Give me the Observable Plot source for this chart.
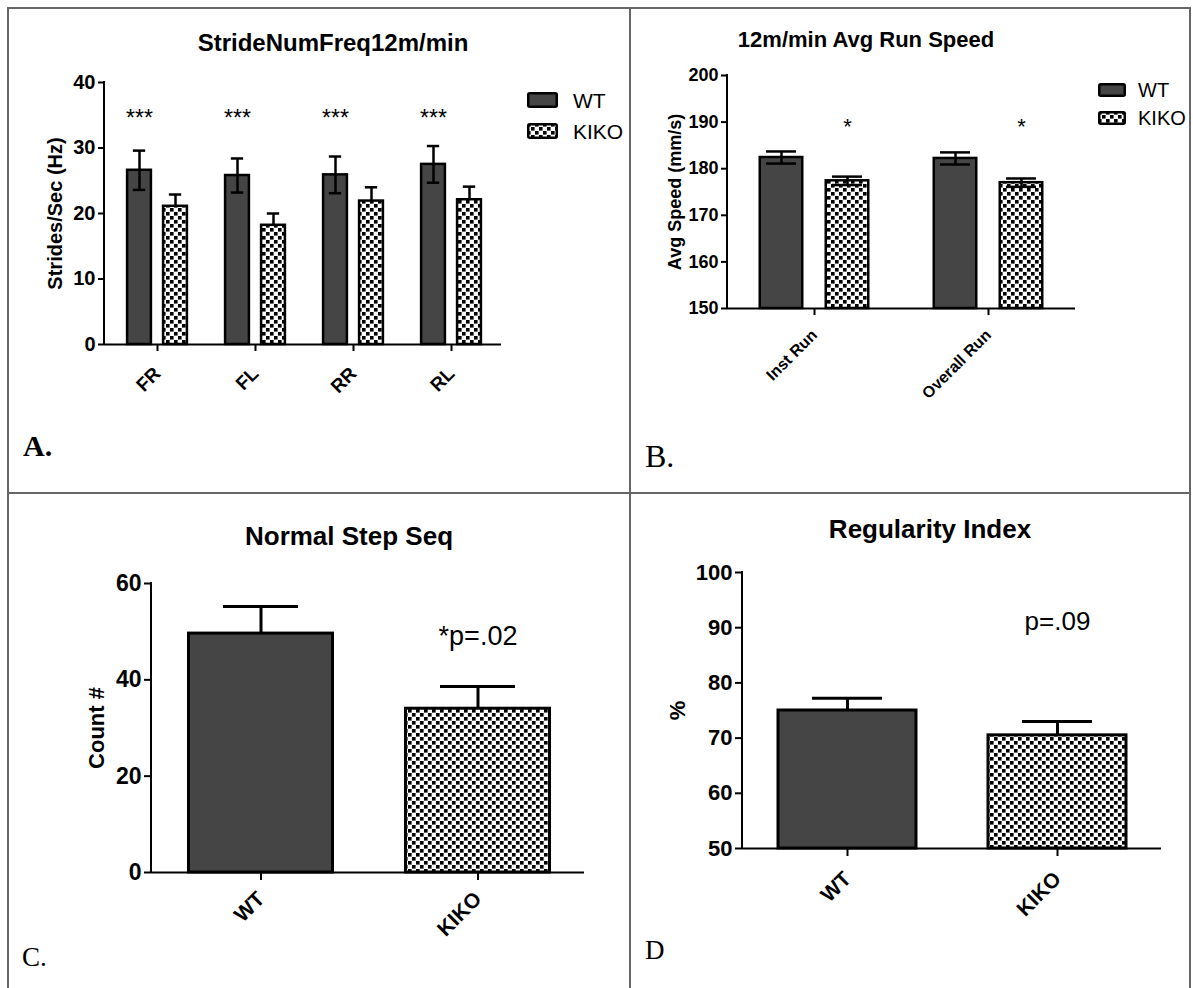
<!DOCTYPE html>
<html>
<head>
<meta charset="utf-8">
<script src="https://cdn.jsdelivr.net/npm/d3@7"></script>
<script src="https://cdn.jsdelivr.net/npm/@observablehq/plot@0.6"></script>
<style>
  html, body { margin: 0; padding: 0; background: #fff; }
  #fig { position: relative; width: 1193px; height: 988px; background: #fff; overflow: hidden; }
  .t { position: absolute; line-height: 1; white-space: nowrap; color: #000; }
  .b { position: absolute; background: #666; }
</style>
</head>
<body>
<div id="fig"></div>
<script>
// ---------------- DATA ----------------
const groups = ["WT", "KIKO"];

// Panel A: StrideNumFreq12m/min (Strides/Sec, Hz), mean ± SEM
const strideCats = ["FR", "FL", "RR", "RL"];
const strideWT = [26.6, 25.8, 25.9, 27.5];
const strideWTSem = [3.0, 2.6, 2.8, 2.8];
const strideKIKO = [21.1, 18.2, 21.9, 22.1];
const strideKIKOSem = [1.8, 1.8, 2.1, 2.0];
const strideSig = ["***", "***", "***", "***"];
const strideTicks = [0, 10, 20, 30, 40];

// Panel B: 12m/min Avg Run Speed (mm/s)
const speedCats = ["Inst Run", "Overall Run"];
const speedWT = [182.4, 182.2];
const speedWTSem = [1.3, 1.3];
const speedKIKO = [177.4, 177.0];
const speedKIKOSem = [0.9, 0.9];
const speedSig = ["*", "*"];
const speedTicks = [150, 160, 170, 180, 190, 200];

// Panel C: Normal Step Seq (Count #)
const stepValues = [49.6, 34.0];
const stepSem = [5.6, 4.6];
const stepNote = ["", "*p=.02"];
const stepTicks = [0, 20, 40, 60];

// Panel D: Regularity Index (%)
const regValues = [75.0, 70.5];
const regSem = [2.2, 2.5];
const regNote = ["", "p=.09"];
const regTicks = [50, 60, 70, 80, 90, 100];

// ---------------- HELPERS ----------------
const FONT = "'Liberation Sans', Arial, Helvetica, sans-serif";
const SERIF = "'Liberation Serif', 'Times New Roman', serif";
const DARK = "#454545";
const NS = "http://www.w3.org/2000/svg";
const fig = document.getElementById("fig");

const mk = (cats, vals, sems, group, labels) =>
  cats.map((cat, i) => ({cat, group, value: vals[i], lo: vals[i] - sems[i], hi: vals[i] + sems[i], label: labels ? labels[i] : ""}));

const patternSrc = (id) =>
  `<pattern id="${id}" width="8" height="8" patternUnits="userSpaceOnUse">` +
  `<rect width="8" height="8" fill="#fff"/>` +
  `<rect x="0" y="0" width="3.6" height="3.6" fill="#000"/>` +
  `<rect x="4" y="4" width="3.6" height="3.6" fill="#000"/></pattern>`;

function defsMark(id) {
  return () => {
    const d = document.createElementNS(NS, "defs");
    d.innerHTML = patternSrc(id);
    return d;
  };
}
function yAxisLine(sw) {
  return (index, scales, values, dim) => {
    const l = document.createElementNS(NS, "line");
    l.setAttribute("x1", dim.marginLeft);
    l.setAttribute("x2", dim.marginLeft);
    l.setAttribute("y1", dim.marginTop - 1);
    l.setAttribute("y2", dim.height - dim.marginBottom + 1);
    l.setAttribute("stroke", "#000");
    l.setAttribute("stroke-width", sw);
    return l;
  };
}

function panel(o) {
  const step = (o.xRange[1] - o.xRange[0]) / o.cats.length;
  const marks = [defsMark(o.patId)];
  for (const s of o.series) {
    const inset = (step - s.barW) / 2, capInset = (step - s.capW) / 2;
    const common = {x: "cat", dx: s.dx, stroke: "#000", strokeWidth: o.sw};
    marks.push(Plot.barY(s.data, {
      ...common, y1: () => o.yDomain[0], y2: "value",
      fill: s.pattern ? `url(#${o.patId})` : DARK,
      insetLeft: inset, insetRight: inset
    }));
    marks.push(Plot.ruleX(s.data, {...common, y1: s.both ? "lo" : "value", y2: "hi"}));
    marks.push(Plot.tickY(s.data, {...common, y: "hi", insetLeft: capInset, insetRight: capInset}));
    if (s.both) marks.push(Plot.tickY(s.data, {...common, y: "lo", insetLeft: capInset, insetRight: capInset}));
    if (s.note) marks.push(Plot.text(s.data, {
      x: "cat", dx: s.dx, y: () => s.note.y, text: "label",
      fontSize: s.note.size, fontWeight: "normal", fill: "#000"
    }));
  }
  marks.push(Plot.ruleY([o.yDomain[0]], {stroke: "#000", strokeWidth: 2}));
  marks.push(yAxisLine(2));
  marks.push(Plot.axisY({ticks: o.yTicks, tickSize: o.yTickSize, tickPadding: 3, strokeWidth: 2,
    fontSize: o.tickFont, label: null, tickFormat: d => String(d)}));
  marks.push(Plot.axisX({tickSize: o.xTickSize, tickPadding: o.catPad, tickRotate: -45, strokeWidth: 2,
    fontSize: o.catFont, label: null}));
  marks.push(Plot.text([o.yLabel], {frameAnchor: "left", textAnchor: "middle", rotate: -90,
    dx: o.yLabelDx, fontSize: o.yLabelSize, fill: "#000"}));

  const p = Plot.plot({
    width: o.width, height: o.height,
    marginTop: o.margin[0], marginRight: o.margin[1], marginBottom: o.margin[2], marginLeft: o.margin[3],
    style: {fontFamily: FONT, fontWeight: "bold", fontSize: o.tickFont + "px", color: "#000", background: "transparent", overflow: "visible"},
    x: {type: "band", domain: o.cats, range: o.xRange, padding: 0},
    y: {domain: o.yDomain},
    marks
  });
  p.style.position = "absolute";
  p.style.left = o.left + "px";
  p.style.top = o.top + "px";
  fig.appendChild(p);
  return p;
}

function addText(str, {x, baseline, size, weight = "normal", family = FONT, anchor = "start"}) {
  const k = family === SERIF ? 0.8375 : 0.8465;
  const d = document.createElement("div");
  d.className = "t";
  d.textContent = str;
  d.style.fontFamily = family;
  d.style.fontSize = size + "px";
  d.style.fontWeight = weight;
  d.style.left = x + "px";
  d.style.top = (baseline - k * size) + "px";
  if (anchor === "middle") d.style.transform = "translateX(-50%)";
  fig.appendChild(d);
}

function addLegend({x, w, h, ys, textX, size, id}) {
  groups.forEach((g, i) => {
    const s = document.createElementNS(NS, "svg");
    s.setAttribute("width", w);
    s.setAttribute("height", h);
    s.style.position = "absolute";
    s.style.left = x + "px";
    s.style.top = ys[i] + "px";
    s.innerHTML = `<defs>${patternSrc(id + i)}</defs>` +
      `<rect x="1.25" y="1.25" width="${w - 2.5}" height="${h - 2.5}" rx="1.5" fill="${i === 0 ? DARK : `url(#${id + i})`}" stroke="#000" stroke-width="2.5"/>`;
    fig.appendChild(s);
    addText(g, {x: textX, baseline: ys[i] + h / 2 + 0.358 * size, size});
  });
}

// ---------------- BORDERS ----------------
[[7, 7, 1184, 2], [7, 7, 2, 981], [1189, 7, 2, 981], [629, 7, 2, 981], [7, 492, 1184, 2]].forEach(([l, t, w, h]) => {
  const d = document.createElement("div");
  d.className = "b";
  Object.assign(d.style, {left: l + "px", top: t + "px", width: w + "px", height: h + "px"});
  fig.appendChild(d);
});

// ---------------- PANEL A ----------------
panel({
  left: 0, top: 0, width: 630, height: 493, margin: [82, 129, 149, 104],
  xRange: [106.65, 501.35], cats: strideCats, yDomain: [0, 40], yTicks: strideTicks,
  patId: "chkA", sw: 2.5, tickFont: 20, catFont: 19, catPad: 19, yTickSize: 6, xTickSize: 7,
  yLabel: "Strides/Sec (Hz)", yLabelDx: -49, yLabelSize: 20,
  series: [
    {data: mk(strideCats, strideWT, strideWTSem, "WT", strideSig), dx: -18, barW: 24.5, capW: 13, both: true,
     note: {y: 34.5, size: 23}},
    {data: mk(strideCats, strideKIKO, strideKIKOSem, "KIKO"), dx: 18, barW: 24.5, capW: 13, both: false, pattern: true}
  ]
});

// ---------------- PANEL B ----------------
panel({
  left: 630, top: 0, width: 563, height: 493, margin: [75, 118, 185, 97],
  xRange: [97, 445], cats: speedCats, yDomain: [150, 200], yTicks: speedTicks,
  patId: "chkB", sw: 2.5, tickFont: 18, catFont: 16, catPad: 17, yTickSize: 6, xTickSize: 7,
  yLabel: "Avg Speed (mm/s)", yLabelDx: -52, yLabelSize: 18,
  series: [
    {data: mk(speedCats, speedWT, speedWTSem, "WT"), dx: -33, barW: 42.5, capW: 30, both: true},
    {data: mk(speedCats, speedKIKO, speedKIKOSem, "KIKO", speedSig), dx: 33, barW: 42.5, capW: 30, both: true, pattern: true,
     note: {y: 189, size: 22}}
  ]
});

// ---------------- PANEL C ----------------
const stepRows = mk(groups, stepValues, stepSem, null, stepNote);
panel({
  left: 0, top: 493, width: 630, height: 495, margin: [90, 46, 116, 151],
  xRange: [151.5, 585.5], cats: groups, yDomain: [0, 60], yTicks: stepTicks,
  patId: "chkC", sw: 3, tickFont: 23, catFont: 21, catPad: 15, yTickSize: 7, xTickSize: 8,
  yLabel: "Count #", yLabelDx: -55, yLabelSize: 22,
  series: [
    {data: [stepRows[0]], dx: 0, barW: 144, capW: 75, both: false},
    {data: [stepRows[1]], dx: 0, barW: 144, capW: 75, both: false, pattern: true, note: {y: 49.0, size: 27}}
  ]
});

// ---------------- PANEL D ----------------
const regRows = mk(groups, regValues, regSem, null, regNote);
panel({
  left: 630, top: 493, width: 563, height: 495, margin: [79, 32, 140, 112],
  xRange: [112, 532], cats: groups, yDomain: [50, 100], yTicks: regTicks,
  patId: "chkD", sw: 3, tickFont: 22, catFont: 21, catPad: 19, yTickSize: 7, xTickSize: 8,
  yLabel: "%", yLabelDx: -65, yLabelSize: 22,
  series: [
    {data: [regRows[0]], dx: 0, barW: 138, capW: 70, both: false},
    {data: [regRows[1]], dx: 0, barW: 138, capW: 70, both: false, pattern: true, note: {y: 91.1, size: 26}}
  ]
});

// ---------------- TITLES, LEGENDS, PANEL LETTERS ----------------
addText("StrideNumFreq12m/min", {x: 333, baseline: 51, size: 24, weight: "bold", anchor: "middle"});
addText("12m/min Avg Run Speed", {x: 866, baseline: 48, size: 22, weight: "bold", anchor: "middle"});
addText("Normal Step Seq", {x: 349, baseline: 545, size: 26, weight: "bold", anchor: "middle"});
addText("Regularity Index", {x: 930, baseline: 538, size: 26, weight: "bold", anchor: "middle"});

addLegend({x: 527, w: 31, h: 16, ys: [92, 123], textX: 573, size: 21, id: "lgA"});
addLegend({x: 1098, w: 28, h: 14, ys: [83, 111], textX: 1138, size: 20, id: "lgB"});

addText("A.", {x: 23, baseline: 456, size: 30, weight: "bold", family: SERIF});
addText("B.", {x: 645, baseline: 467, size: 32, family: SERIF});
addText("C.", {x: 22, baseline: 967, size: 27, family: SERIF});
addText("D", {x: 645, baseline: 960, size: 27, family: SERIF});
</script>
</body>
</html>
